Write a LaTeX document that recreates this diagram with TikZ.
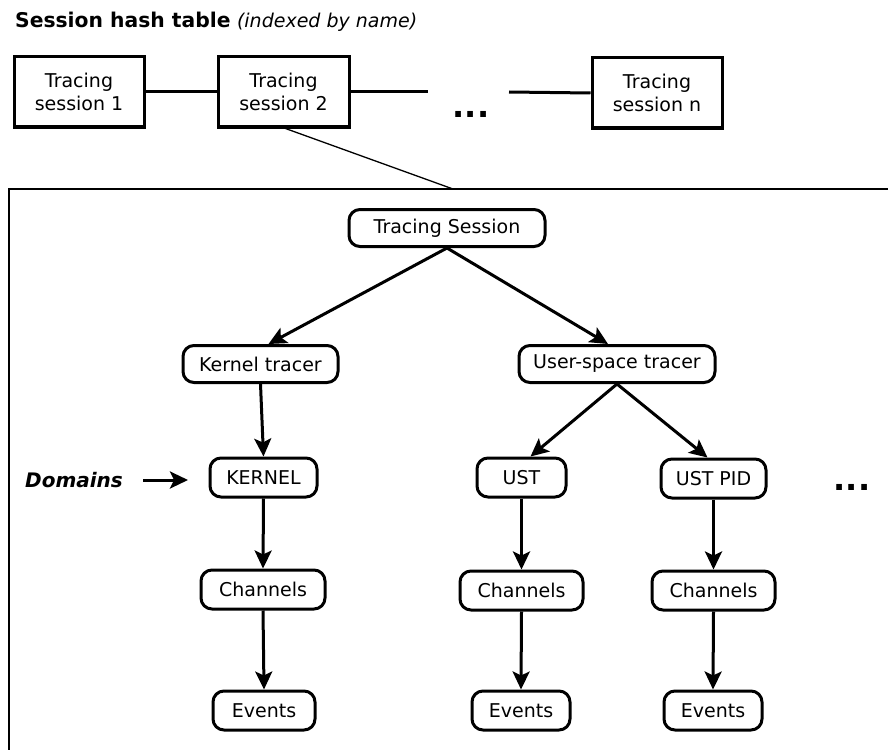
\documentclass[tikz,border=0pt]{standalone}
\usepackage{fontspec}
\setmainfont{DejaVu Sans}
\usetikzlibrary{arrows.meta}
\begin{document}
\begin{tikzpicture}[x=1pt,y=-1pt,
  every node/.style={font=\fontsize{19}{23}\selectfont, inner sep=0pt},
  sbox/.style={draw, line width=3pt, minimum width=130pt, minimum height=70pt, align=center},
  tnode/.style={draw, line width=3pt, rounded corners=11pt, minimum height=37pt},
  link/.style={line width=3pt},
  thinline/.style={line width=1.3pt},
  arr/.style={line width=3pt, -{Stealth[length=18pt,width=17pt,inset=4pt]}},
  dots/.style={font=\fontsize{32}{32}\selectfont\bfseries}
]
\useasboundingbox (0,0) rectangle (888,749);

% header
\node[anchor=west, font=\fontsize{20.3}{24}\selectfont] (title) at (15,22)
  {\textbf{Session hash table} {\fontsize{19}{23}\selectfont\itshape(indexed by name)}};

% session hash table
\node[sbox] (s1) at (79,92) {Tracing\\session 1};
\node[sbox, minimum width=131pt] (s2) at (283.5,92) {Tracing\\session 2};
\node[sbox] (sn) at (657,93) {Tracing\\session n};
\coordinate (g1) at (428,92);
\coordinate (g2) at (509,92);
\node[dots] (hd) at (471,114) {...};
\draw[link] (s1.east) -- (s2.west);
\draw[link] (s2.east) -- (g1);
\draw[link] (g2) -- (sn.west);

% detail frame
\draw[line width=1.5pt] (888,189) -- (9,189) -- (9,752);
\coordinate (fr) at (453,189);
\draw[thinline] ([xshift=2pt]s2.south) -- (fr);

% session tree
\node[tnode, minimum width=196pt] (ts) at (447,228) {Tracing Session};
\node[tnode, minimum width=155pt] (kt) at (260.5,364) {Kernel tracer};
\node[tnode, minimum width=196pt] (ut) at (617,364) {User-space tracer};

\node[tnode, minimum width=107pt, minimum height=39pt] (kd) at (263.5,477.5) {KERNEL};
\node[tnode, minimum width=89pt, minimum height=39pt] (ud) at (521.5,477.5) {UST};
\node[tnode, minimum width=105pt, minimum height=39pt] (pd) at (713.5,478.5) {UST PID};

\node[tnode, minimum width=124pt, minimum height=39pt] (kc) at (263,589.5) {Channels};
\node[tnode, minimum width=123pt, minimum height=39pt] (uc) at (521.5,590.5) {Channels};
\node[tnode, minimum width=123pt, minimum height=39pt] (pc) at (713.5,590.5) {Channels};

\node[tnode, minimum width=102pt, minimum height=39pt] (ke) at (264,710.5) {Events};
\node[tnode, minimum width=98pt, minimum height=39pt] (ue) at (521,710.5) {Events};
\node[tnode, minimum width=98pt, minimum height=39pt] (pe) at (713,710.5) {Events};

\draw[arr] (ts.south) -- ([xshift=8pt]kt.north);
\draw[arr] (ts.south) -- ([xshift=-9pt]ut.north);
\draw[arr] (kt.south) -- (kd.north);
\draw[arr] (ut.south) -- ([xshift=9pt]ud.north);
\draw[arr] (ut.south) -- ([xshift=-6pt]pd.north);
\draw[arr] (kd.south) -- (kc.north);
\draw[arr] (ud.south) -- (uc.north);
\draw[arr] (pd.south) -- (pc.north);
\draw[arr] (kc.south) -- (ke.north);
\draw[arr] (uc.south) -- (ue.north);
\draw[arr] (pc.south) -- (pe.north);

% domain label
\node[anchor=west, font=\fontsize{20}{24}\selectfont\bfseries\itshape] (dom) at (25,480) {Domains};
\coordinate (da) at (143,480);
\coordinate (db) at (188,480);
\draw[arr] (da) -- (db);

\node[dots] (md) at (852,487) {...};
\end{tikzpicture}
\end{document}
